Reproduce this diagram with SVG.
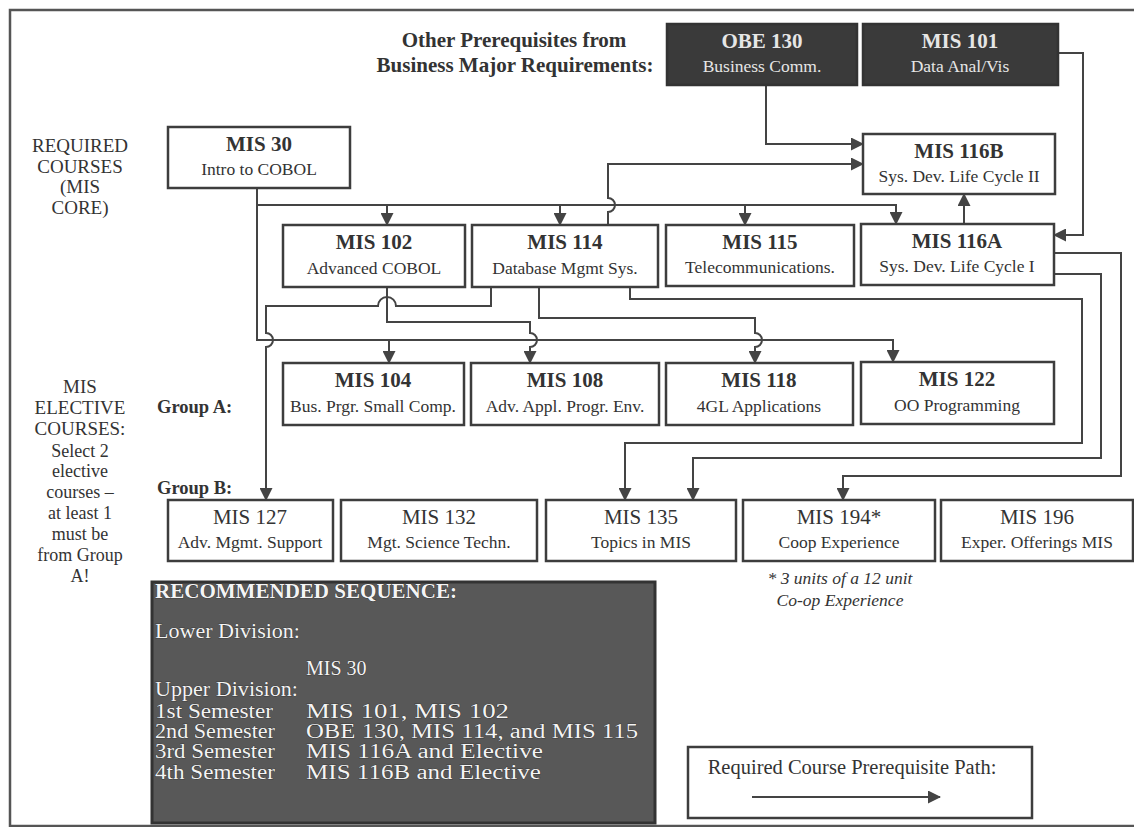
<svg xmlns="http://www.w3.org/2000/svg" width="1134" height="827" viewBox="0 0 1134 827">
<defs>
<marker id="ah" markerUnits="userSpaceOnUse" markerWidth="13" markerHeight="13" refX="12" refY="6.5" orient="auto"><path d="M0,0 L13,6.5 L0,13 z" fill="#444"/></marker>
</defs>
<style>
.box{fill:#fff;stroke:#3d3d3d;stroke-width:2.5}
.dark{fill:#3a3a3a;stroke:#333;stroke-width:2.5}
.t{font-family:"Liberation Serif",serif;fill:#333}
.ttl{font-size:21px;font-weight:bold;text-anchor:middle}
.ttlr{font-size:21px;text-anchor:middle}
.sub{font-size:17.5px;text-anchor:middle}
.lbl{font-size:19px;text-anchor:middle}
.lt{fill:#e6e6e6}
.conn path{fill:none;stroke:#444;stroke-width:2}
.seq{font-family:"Liberation Serif",serif;font-size:20px;fill:#f4f4f4;stroke:#222;stroke-width:0.6;paint-order:stroke}
</style>
<rect width="1134" height="827" fill="#fff"/>
<path d="M1134,10 H10 V826 H1134" fill="none" stroke="#555" stroke-width="2.5"/>

<g id="header">
<text class="t" x="514" y="47" font-size="21" font-weight="bold" text-anchor="middle">Other Prerequisites from</text>
<text class="t" x="515" y="72" font-size="21" font-weight="bold" text-anchor="middle">Business Major Requirements:</text>
</g>

<g id="side-labels" class="t lbl">
<text x="80" y="152">REQUIRED</text>
<text x="80" y="173">COURSES</text>
<text x="80" y="193">(MIS</text>
<text x="80" y="214">CORE)</text>
<text x="80" y="393">MIS</text>
<text x="80" y="414">ELECTIVE</text>
<text x="80" y="435">COURSES:</text>
<text x="80" y="457" font-size="18">Select 2</text>
<text x="80" y="477" font-size="18">elective</text>
<text x="80" y="498" font-size="18">courses –</text>
<text x="80" y="519" font-size="18">at least 1</text>
<text x="80" y="540" font-size="18">must be</text>
<text x="80" y="561" font-size="18">from Group</text>
<text x="80" y="582" font-size="18">A!</text>
</g>
<g id="group-labels" class="t">
<text x="157" y="413" font-size="18.5" font-weight="bold">Group A:</text>
<text x="157" y="494" font-size="18.5" font-weight="bold">Group B:</text>
</g>

<g id="connectors" class="conn">
<path d="M766,85 V144 H863" marker-end="url(#ah)"/>
<path d="M1058,53 H1083 V235 H1054" marker-end="url(#ah)"/>
<path d="M964,224 V194" marker-end="url(#ah)"/>
<path d="M257,188 V340 H893 V362" marker-end="url(#ah)"/>
<path d="M257,205 H896 V224" marker-end="url(#ah)"/>
<path d="M387,205 V225" marker-end="url(#ah)"/>
<path d="M560,205 V225" marker-end="url(#ah)"/>
<path d="M745,205 V225" marker-end="url(#ah)"/>
<path d="M389,340 V363" marker-end="url(#ah)"/>
<path d="M608,225 V212 A7,7 0 0 0 608,198 V164 H863" marker-end="url(#ah)"/>
<path d="M491,287 V306 H396 A9,9 0 0 0 378,306 H266 V333 A7,7 0 0 1 266,347 V500" marker-end="url(#ah)"/>
<path d="M387,288 V322 H530 V333 A7,7 0 0 1 530,347 V363" marker-end="url(#ah)"/>
<path d="M539,287 V318 H755 V333 A7,7 0 0 1 755,347 V363" marker-end="url(#ah)"/>
<path d="M630,287 V299 H1082 V443 H625 V500" marker-end="url(#ah)"/>
<path d="M1054,274 H1101 V458 H693 V500" marker-end="url(#ah)"/>
<path d="M1054,253 H1121 V476 H843 V500" marker-end="url(#ah)"/>
</g>

<g id="obe130"><rect class="dark" x="667" y="24" width="190" height="61"/><text class="t ttl lt" x="762" y="48" font-size="19">OBE 130</text><text class="t sub lt" x="762" y="72">Business Comm.</text></g>
<g id="mis101"><rect class="dark" x="863" y="24" width="195" height="61"/><text class="t ttl lt" x="960" y="48" font-size="19">MIS 101</text><text class="t sub lt" x="960" y="72">Data Anal/Vis</text></g>

<g id="mis30"><rect class="box" x="168" y="127" width="182" height="61"/><text class="t ttl" x="259" y="151">MIS 30</text><text class="t sub" x="259" y="175">Intro to COBOL</text></g>
<g id="mis116b"><rect class="box" x="863" y="134" width="192" height="60"/><text class="t ttl" x="959" y="158">MIS 116B</text><text class="t sub" x="959" y="182">Sys. Dev. Life Cycle II</text></g>

<g id="mis102"><rect class="box" x="283" y="225" width="182" height="62"/><text class="t ttl" x="374" y="249">MIS 102</text><text class="t sub" x="374" y="274">Advanced COBOL</text></g>
<g id="mis114"><rect class="box" x="472" y="225" width="186" height="62"/><text class="t ttl" x="565" y="249">MIS 114</text><text class="t sub" x="565" y="274">Database Mgmt Sys.</text></g>
<g id="mis115"><rect class="box" x="666" y="225" width="188" height="61"/><text class="t ttl" x="760" y="249">MIS 115</text><text class="t sub" x="760" y="273">Telecommunications.</text></g>
<g id="mis116a"><rect class="box" x="861" y="224" width="193" height="61"/><text class="t ttl" x="957" y="248">MIS 116A</text><text class="t sub" x="957" y="272">Sys. Dev. Life Cycle I</text></g>

<g id="mis104"><rect class="box" x="283" y="363" width="181" height="62"/><text class="t ttl" x="373" y="387">MIS 104</text><text class="t sub" x="373" y="412">Bus. Prgr. Small Comp.</text></g>
<g id="mis108"><rect class="box" x="471" y="363" width="188" height="62"/><text class="t ttl" x="565" y="387">MIS 108</text><text class="t sub" x="565" y="412">Adv. Appl. Progr. Env.</text></g>
<g id="mis118"><rect class="box" x="666" y="363" width="187" height="62"/><text class="t ttl" x="759" y="387">MIS 118</text><text class="t sub" x="759" y="412">4GL Applications</text></g>
<g id="mis122"><rect class="box" x="861" y="362" width="193" height="62"/><text class="t ttl" x="957" y="386">MIS 122</text><text class="t sub" x="957" y="411">OO Programming</text></g>

<g id="mis127"><rect class="box" x="168" y="500" width="165" height="61"/><text class="t ttlr" x="250" y="524">MIS 127</text><text class="t sub" x="250" y="548">Adv. Mgmt. Support</text></g>
<g id="mis132"><rect class="box" x="341" y="500" width="196" height="61"/><text class="t ttlr" x="439" y="524">MIS 132</text><text class="t sub" x="439" y="548">Mgt. Science Techn.</text></g>
<g id="mis135"><rect class="box" x="546" y="500" width="190" height="61"/><text class="t ttlr" x="641" y="524">MIS 135</text><text class="t sub" x="641" y="548">Topics in MIS</text></g>
<g id="mis194"><rect class="box" x="743" y="500" width="192" height="61"/><text class="t ttlr" x="839" y="524">MIS 194*</text><text class="t sub" x="839" y="548">Coop Experience</text></g>
<g id="mis196"><rect class="box" x="941" y="500" width="192" height="61"/><text class="t ttlr" x="1037" y="524">MIS 196</text><text class="t sub" x="1037" y="548">Exper. Offerings MIS</text></g>

<g id="footnote" class="t" font-style="italic" font-size="17.5" text-anchor="middle">
<text x="840" y="584">* 3 units of a 12 unit</text>
<text x="840" y="606">Co-op Experience</text>
</g>

<g id="sequence">
<rect x="152" y="582" width="503" height="241" fill="#585858" stroke="#333" stroke-width="3"/>
<text class="seq" x="155" y="598" font-weight="bold" textLength="302" lengthAdjust="spacingAndGlyphs">RECOMMENDED SEQUENCE:</text>
<text class="seq" x="155" y="638" textLength="145" lengthAdjust="spacingAndGlyphs">Lower Division:</text>
<text class="seq" x="306" y="675">MIS 30</text>
<text class="seq" x="155" y="696" textLength="143" lengthAdjust="spacingAndGlyphs">Upper Division:</text>
<text class="seq" x="155" y="718" textLength="118" lengthAdjust="spacingAndGlyphs">1st Semester</text>
<text class="seq" x="306" y="718" textLength="203" lengthAdjust="spacingAndGlyphs">MIS 101, MIS 102</text>
<text class="seq" x="155" y="738" textLength="120" lengthAdjust="spacingAndGlyphs">2nd Semester</text>
<text class="seq" x="306" y="738" textLength="332" lengthAdjust="spacingAndGlyphs">OBE 130, MIS 114, and MIS 115</text>
<text class="seq" x="155" y="758" textLength="120" lengthAdjust="spacingAndGlyphs">3rd Semester</text>
<text class="seq" x="306" y="758" textLength="237" lengthAdjust="spacingAndGlyphs">MIS 116A and Elective</text>
<text class="seq" x="155" y="779" textLength="120" lengthAdjust="spacingAndGlyphs">4th Semester</text>
<text class="seq" x="306" y="779" textLength="235" lengthAdjust="spacingAndGlyphs">MIS 116B and Elective</text>
</g>

<g id="legend">
<rect class="box" x="688" y="747" width="344" height="71"/>
<text class="t" x="852" y="774" font-size="20.5" text-anchor="middle">Required Course Prerequisite Path:</text>
<path d="M752,797 H940" stroke="#444" stroke-width="2" fill="none" marker-end="url(#ah)"/>
</g>
</svg>
